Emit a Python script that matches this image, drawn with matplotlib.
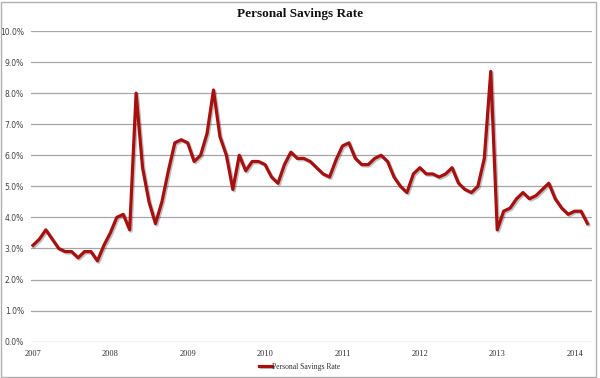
import numpy as np
import matplotlib.pyplot as plt
from matplotlib.patches import Rectangle
import matplotlib.patheffects as pe

# monthly personal savings rate (%), Jan 2007 - Mar 2014
rate_2007 = [3.1, 3.3, 3.6, 3.3, 3.0, 2.9, 2.9, 2.7, 2.9, 2.9, 2.6, 3.1]
rate_2008 = [3.5, 4.0, 4.1, 3.6, 8.0, 5.6, 4.5, 3.8, 4.5, 5.5, 6.4, 6.5]
rate_2009 = [6.4, 5.8, 6.0, 6.7, 8.1, 6.6, 6.0, 4.9, 6.0, 5.5, 5.8, 5.8]
rate_2010 = [5.7, 5.3, 5.1, 5.7, 6.1, 5.9, 5.9, 5.8, 5.6, 5.4, 5.3, 5.85]
rate_2011 = [6.3, 6.4, 5.9, 5.7, 5.7, 5.9, 6.0, 5.8, 5.3, 5.0, 4.8, 5.4]
rate_2012 = [5.6, 5.4, 5.4, 5.3, 5.4, 5.6, 5.1, 4.9, 4.8, 5.0, 5.9, 8.7]
rate_2013 = [3.6, 4.2, 4.3, 4.6, 4.8, 4.6, 4.7, 4.9, 5.1, 4.6, 4.3, 4.1]
rate_2014 = [4.2, 4.2, 3.8]

savings = np.array(rate_2007 + rate_2008 + rate_2009 + rate_2010
                   + rate_2011 + rate_2012 + rate_2013 + rate_2014)
months = np.arange(len(savings))
year_labels = ["2007", "2008", "2009", "2010", "2011", "2012", "2013", "2014"]
y_ticks = np.arange(0, 11, 1)

fig = plt.figure(figsize=(6, 3.78), dpi=100)
ax = fig.add_axes([31 / 600, 36.3 / 378, 561 / 600, 310.7 / 378])

for yt in y_ticks:
    ax.axhline(yt, color="#a6a6a6", lw=0.9, zorder=1)

ax.plot(months, savings, color="#a8100f", lw=2.3, solid_joinstyle="round",
        label="Personal Savings Rate", zorder=3,
        path_effects=[pe.SimpleLineShadow(offset=(1, -1), alpha=0.25),
                      pe.Normal()])

ax.set_xlim(-0.3, 86.7)
ax.set_ylim(0, 10)
ax.set_yticks(y_ticks)
ax.set_yticklabels([f"{v:.1f}%" for v in y_ticks], fontsize=5.5,
                   color="#404040", family="DejaVu Sans")
ax.set_xticks(np.arange(len(year_labels)) * 12)
ax.set_xticklabels(year_labels, fontsize=6, color="#303030",
                   family="Liberation Serif")
ax.tick_params(length=0, pad=5)
ax.tick_params(axis="x", pad=6)
for s in ax.spines.values():
    s.set_visible(False)

fig.text(0.5, 14 / 378 * -1 + 1, "Personal Savings Rate", ha="center",
         va="center", fontsize=9.5, fontweight="bold",
         family="Liberation Serif", color="#111111")

leg = ax.legend(loc="center", bbox_to_anchor=(0.5, 11.3 / 378),
                bbox_transform=fig.transFigure, frameon=False,
                handlelength=1.6, handletextpad=0.1,
                prop={"family": "Liberation Serif", "size": 5.5})
for t in leg.get_texts():
    t.set_color("#303030")

fig.patches.append(Rectangle((0.5 / 600, 1.5 / 378), 595 / 600, 375 / 378,
                             transform=fig.transFigure, fill=False,
                             edgecolor="#b0b0b0", lw=1))

fig.savefig("out.png", dpi=100)
